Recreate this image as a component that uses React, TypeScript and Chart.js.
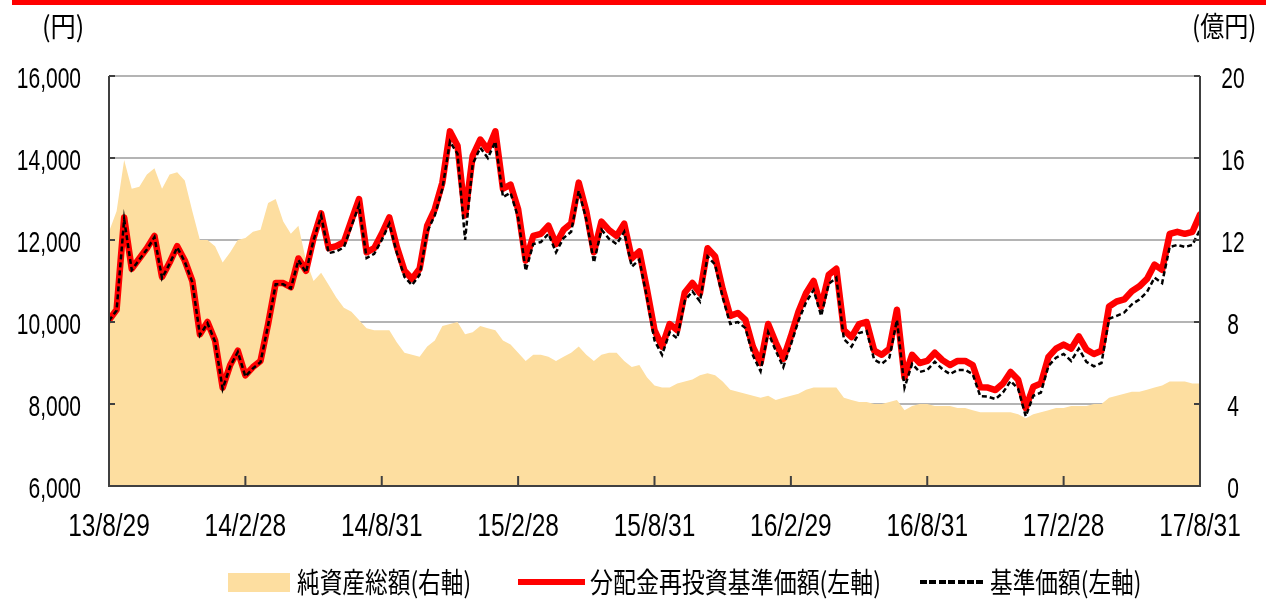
import React, { useEffect, useRef } from 'react';
import { Chart, registerables } from 'chart.js';

Chart.register(...registerables);

// x positions are sample indices (about every 1/3 month), half-year ticks every 18 samples
const xTickLabels = ['13/8/29', '14/2/28', '14/8/31', '15/2/28', '15/8/31', '16/2/29', '16/8/31', '17/2/28', '17/8/31'];

// 分配金再投資基準価額 (円, left axis)
const reinvestedNav = [
  10050, 10300, 12550, 11300, 11550, 11800, 12100, 11100, 11450, 11850,
  11500, 11000, 9700, 10000, 9550, 8400, 8950, 9300, 8700, 8900,
  9050, 9950, 10950, 10950, 10850, 11550, 11250, 12050, 12650, 11800,
  11850, 11950, 12480, 13000, 11700, 11800, 12150, 12550, 11830, 11250,
  11050, 11300, 12350, 12750, 13400, 14650, 14300, 12600, 14050, 14450,
  14200, 14650, 13250, 13350, 12750, 11500, 12100, 12150, 12350, 11900,
  12250, 12400, 13400, 12700, 11700, 12450, 12240, 12100, 12400, 11550,
  11720, 10800, 9800, 9400, 9950, 9800, 10720, 10950, 10700, 11800,
  11600, 10800, 10150, 10220, 10050, 9390, 9000, 9950, 9500, 9100,
  9650, 10250, 10700, 11000, 10370, 11150, 11300, 9800, 9630, 9950,
  10000, 9300, 9200, 9350, 10300, 8650, 9200, 9000, 9050, 9250,
  9070, 8950, 9050, 9050, 8950, 8410, 8400, 8340, 8500, 8780,
  8590, 7900, 8420, 8500, 9150, 9350, 9450, 9350, 9650, 9330,
  9220, 9300, 10380, 10500, 10550, 10750, 10870, 11050, 11400, 11270,
  12150, 12200, 12150, 12200, 12620,
];

// 基準価額 (円, left axis)
const nav = [
  10030, 10280, 12500, 11270, 11520, 11770, 12070, 11070, 11420, 11820,
  11470, 10970, 9680, 9970, 9520, 8370, 8920, 9270, 8670, 8870,
  9020, 9920, 10920, 10920, 10820, 11510, 11210, 12000, 12590, 11680,
  11720, 11820, 12340, 12850, 11560, 11660, 12000, 12400, 11680, 11100,
  10900, 11150, 12200, 12600, 13250, 14400, 14100, 12000, 13850, 14250,
  14000, 14400, 13050, 13150, 12550, 11250, 11900, 11950, 12150, 11700,
  12050, 12200, 13200, 12500, 11450, 12250, 12030, 11900, 12200, 11350,
  11520, 10600, 9550, 9200, 9750, 9600, 10520, 10750, 10500, 11600,
  11400, 10600, 9950, 10000, 9850, 9180, 8800, 9750, 9300, 8900,
  9450, 10030, 10480, 10780, 10150, 10930, 11080, 9580, 9400, 9730,
  9780, 9080, 8980, 9130, 10050, 8400, 8980, 8780, 8830, 9030,
  8850, 8730, 8830, 8830, 8730, 8190, 8180, 8120, 8280, 8560,
  8370, 7700, 8200, 8280, 8930, 9130, 9220, 9050, 9350, 9030,
  8920, 9000, 10080, 10150, 10230, 10430, 10550, 10730, 11080, 10950,
  11830, 11880, 11830, 11880, 12250,
];

// 純資産総額 (億円, right axis)
const netAssets = [
  12.4, 13.4, 15.9, 14.5, 14.6, 15.2, 15.5, 14.5, 15.2, 15.3,
  14.9, 13.4, 12.0, 12.0, 11.7, 10.9, 11.4, 12.0, 12.1, 12.4,
  12.5, 13.8, 14.0, 12.9, 12.3, 12.7, 11.0, 10.0, 10.4, 9.8,
  9.2, 8.7, 8.5, 8.1, 7.7, 7.6, 7.6, 7.6, 7.0, 6.5,
  6.4, 6.3, 6.8, 7.1, 7.8, 7.9, 8.0, 7.4, 7.5, 7.8,
  7.7, 7.6, 7.1, 6.9, 6.5, 6.1, 6.4, 6.4, 6.3, 6.1,
  6.3, 6.5, 6.8, 6.4, 6.1, 6.4, 6.5, 6.5, 6.1, 5.8,
  5.9, 5.3, 4.9, 4.8, 4.8, 5.0, 5.1, 5.2, 5.4, 5.5,
  5.4, 5.1, 4.7, 4.6, 4.5, 4.4, 4.3, 4.4, 4.2, 4.3,
  4.4, 4.5, 4.7, 4.8, 4.8, 4.8, 4.8, 4.3, 4.2, 4.1,
  4.1, 4.0, 4.0, 4.1, 4.2, 3.7, 3.9, 4.0, 4.0, 3.9,
  3.9, 3.9, 3.8, 3.8, 3.7, 3.6, 3.6, 3.6, 3.6, 3.6,
  3.5, 3.3, 3.5, 3.6, 3.7, 3.8, 3.8, 3.9, 3.9, 3.9,
  4.0, 4.0, 4.3, 4.4, 4.5, 4.6, 4.6, 4.7, 4.8, 4.9,
  5.1, 5.1, 5.1, 5.0, 5.0,
];

const leftUnit = '(円)';
const rightUnit = '(億円)';
const legendArea = '純資産総額(右軸)';
const legendReinvested = '分配金再投資基準価額(左軸)';
const legendNav = '基準価額(左軸)';

const AREA_COLOR = 'rgb(253,222,160)';
const NUM_FONT = "'Liberation Sans', Arial, sans-serif";
const JP_FONT = "'Noto Sans CJK JP', sans-serif";

const axisFramePlugin = {
  id: 'axisFrame',
  afterDatasetsDraw(chart: any) {
    const { ctx, chartArea, scales } = chart;
    const { left, right, top, bottom } = chartArea;
    ctx.save();
    ctx.strokeStyle = '#404040';
    ctx.lineWidth = 2;
    ctx.beginPath();
    ctx.moveTo(left, top);
    ctx.lineTo(left, bottom);
    ctx.lineTo(right, bottom);
    ctx.lineTo(right, top);
    ctx.stroke();
    ctx.beginPath();
    scales.y.ticks.forEach((t: any) => {
      const y = scales.y.getPixelForValue(t.value);
      ctx.moveTo(left, y);
      ctx.lineTo(left + 6, y);
    });
    scales.y2.ticks.forEach((t: any) => {
      const y = scales.y2.getPixelForValue(t.value);
      ctx.moveTo(right, y);
      ctx.lineTo(right - 6, y);
    });
    scales.x.ticks.forEach((t: any) => {
      const x = scales.x.getPixelForValue(t.value);
      ctx.moveTo(x, bottom);
      ctx.lineTo(x, bottom - 10);
    });
    ctx.stroke();
    ctx.restore();
  },
};

// condensed tick labels, placed from the scales' own ticks
const tickLabelPlugin = {
  id: 'condensedTickLabels',
  afterDraw(chart: any) {
    const { ctx, chartArea, scales } = chart;
    const draw = (text: string, x: number, baseline: number, size: number, sx: number, align: CanvasTextAlign) => {
      ctx.save();
      ctx.font = `${size}px ${NUM_FONT}`;
      ctx.fillStyle = '#000';
      ctx.textBaseline = 'alphabetic';
      ctx.textAlign = align;
      ctx.translate(x, baseline);
      ctx.scale(sx, 1);
      ctx.fillText(text, 0, 0);
      ctx.restore();
    };
    const ySize = 30;
    const yCap = ySize * 0.716;
    scales.y.ticks.forEach((t: any) => {
      const y = scales.y.getPixelForValue(t.value);
      draw(String(t.label), chartArea.left - 28, y + yCap / 2 + 1, ySize, 0.7, 'right');
    });
    scales.y2.ticks.forEach((t: any) => {
      const y = scales.y2.getPixelForValue(t.value);
      draw(String(t.label), chartArea.right + 33, y + yCap / 2 + 1, ySize, 0.7, 'center');
    });
    const xSize = 31;
    scales.x.ticks.forEach((t: any) => {
      const x = scales.x.getPixelForValue(t.value);
      draw(String(t.label), x, chartArea.bottom + 50, xSize, 0.79, 'center');
    });
  },
};

const jpText = (text: string, left: number, top: number, size: number, scale: number) => (
  <span
    style={{
      position: 'absolute',
      left,
      top,
      fontFamily: JP_FONT,
      fontSize: size,
      lineHeight: 1,
      color: '#000',
      whiteSpace: 'nowrap',
      transform: `scaleX(${scale})`,
      transformOrigin: 'left center',
    }}
  >
    {text}
  </span>
);

export default function App() {
  const canvasRef = useRef<HTMLCanvasElement>(null);

  useEffect(() => {
    const toPoints = (arr: number[]) => arr.map((v, i) => ({ x: i, y: v }));
    const chart = new Chart(canvasRef.current as HTMLCanvasElement, {
      type: 'line',
      data: {
        datasets: [
          {
            label: legendNav,
            data: toPoints(nav),
            yAxisID: 'y',
            borderColor: '#000000',
            borderWidth: 2.5,
            borderDash: [5, 3],
            pointRadius: 0,
            fill: false,
            tension: 0,
            order: 0,
          },
          {
            label: legendReinvested,
            data: toPoints(reinvestedNav),
            yAxisID: 'y',
            borderColor: '#ff0000',
            borderWidth: 6.5,
            borderJoinStyle: 'round',
            borderCapStyle: 'round',
            pointRadius: 0,
            fill: false,
            tension: 0,
            order: 1,
          },
          {
            label: legendArea,
            data: toPoints(netAssets),
            yAxisID: 'y2',
            backgroundColor: AREA_COLOR,
            borderColor: 'rgba(0,0,0,0)',
            borderWidth: 0,
            pointRadius: 0,
            fill: 'origin',
            tension: 0,
            order: 2,
          },
        ],
      } as any,
      options: {
        responsive: false,
        animation: false,
        layout: { padding: { left: 0, right: 0, top: 76, bottom: 55 } },
        plugins: { legend: { display: false }, tooltip: { enabled: false } },
        scales: {
          x: {
            type: 'linear',
            min: 0,
            max: 144,
            afterFit: (s: any) => {
              s.height = 60;
            },
            grid: { display: false, drawTicks: false },
            border: { display: false },
            ticks: {
              display: false,
              stepSize: 18,
              autoSkip: false,
              maxRotation: 0,
              callback: (v: any) => xTickLabels[Math.round(Number(v) / 18)] ?? '',
            },
          },
          y: {
            position: 'left',
            min: 6000,
            max: 16000,
            afterFit: (s: any) => {
              s.width = 109;
            },
            grid: { color: '#b4b4b4', lineWidth: 2, drawTicks: false },
            border: { display: false },
            ticks: {
              display: false,
              stepSize: 2000,
              callback: (v: any) => Number(v).toLocaleString('en-US'),
            },
          },
          y2: {
            position: 'right',
            min: 0,
            max: 20,
            afterFit: (s: any) => {
              s.width = 72;
            },
            grid: { display: false, drawTicks: false },
            border: { display: false },
            ticks: {
              display: false,
              stepSize: 4,
              callback: (v: any) => String(v),
            },
          },
        },
      } as any,
      plugins: [axisFramePlugin, tickLabelPlugin],
    });
    return () => chart.destroy();
  }, []);

  return (
    <div style={{ position: 'fixed', left: 0, top: 0, width: 1272, height: 601, background: '#fff', overflow: 'hidden' }}>
      <canvas ref={canvasRef} width={1272} height={601} style={{ position: 'absolute', left: 0, top: 0, width: 1272, height: 601 }} />
      <div style={{ position: 'absolute', left: 12, top: 0, width: 1254, height: 5, background: '#ff0000' }} />
      {jpText(leftUnit, 42, 11, 28, 0.9)}
      {jpText(rightUnit, 1192, 11, 28, 0.86)}
      <div style={{ position: 'absolute', left: 228, top: 573, width: 62, height: 19, background: AREA_COLOR }} />
      {jpText(legendArea, 297, 567, 28, 0.81)}
      <div style={{ position: 'absolute', left: 518, top: 579, width: 67, height: 6, background: '#ff0000' }} />
      {jpText(legendReinvested, 590, 567, 28, 0.82)}
      <div
        style={{
          position: 'absolute',
          left: 920,
          top: 580,
          width: 66,
          height: 4,
          background: 'repeating-linear-gradient(to right, #000 0px, #000 7px, transparent 7px, transparent 9.4px)',
        }}
      />
      {jpText(legendNav, 990, 567, 28, 0.81)}
    </div>
  );
}
